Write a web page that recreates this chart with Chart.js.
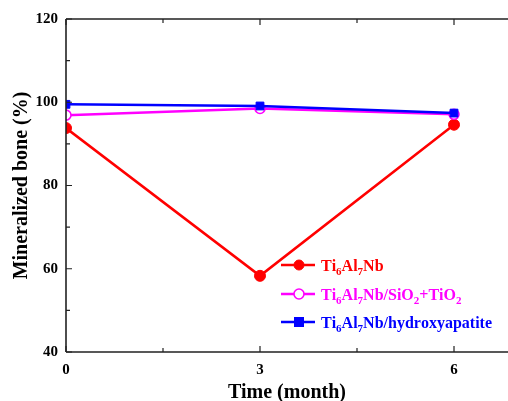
<!DOCTYPE html>
<html><head><meta charset="utf-8">
<script src="https://cdn.jsdelivr.net/npm/chart.js@4"></script>
<style>html,body{margin:0;padding:0;background:#fff}#wrap{width:508px;height:401px}</style>
</head><body><div id="wrap"><canvas id="c" width="508" height="401"></canvas></div>
<script>
const months = [0, 3, 6];
const tiAlNb = [93.8, 58.3, 94.6];
const tiSiO2TiO2 = [96.9, 98.5, 97.1];
const tiHA = [99.5, 99.1, 97.4];
const seriesLabels = ["Ti_6Al_7Nb", "Ti_6Al_7Nb/SiO_2+TiO_2", "Ti_6Al_7Nb/hydroxyapatite"];
const xTickValues = [0, 3, 6];
const xMinorTicks = [1.5, 4.5];
const yTickValues = [40, 60, 80, 100, 120];
const yMinorTicks = [50, 70, 90, 110];

const FONT = '"Liberation Serif","Times New Roman",serif';
const toPts = (ys) => months.map((m, i) => ({x: m, y: ys[i]}));

const axisPlugin = {
  id: 'axisPlugin',
  afterDatasetsDraw(chart) {
    const {ctx, chartArea: a, scales: {x, y}} = chart;
    ctx.save();
    ctx.strokeStyle = '#222';
    ctx.lineWidth = 1.6;
    ctx.beginPath();
    ctx.moveTo(a.left, a.top); ctx.lineTo(a.right, a.top);
    ctx.moveTo(a.left, a.top); ctx.lineTo(a.left, a.bottom);
    ctx.moveTo(a.left, a.bottom); ctx.lineTo(a.right, a.bottom);
    ctx.stroke();
    ctx.lineWidth = 1.2;
    ctx.beginPath();
    xTickValues.concat(xMinorTicks).forEach(v => {
      const px = x.getPixelForValue(v);
      const len = xTickValues.includes(v) ? 6 : 4;
      ctx.moveTo(px, a.bottom); ctx.lineTo(px, a.bottom - len);
      ctx.moveTo(px, a.top); ctx.lineTo(px, a.top + len);
    });
    yTickValues.concat(yMinorTicks).forEach(v => {
      const py = y.getPixelForValue(v);
      const len = yTickValues.includes(v) ? 6 : 4;
      ctx.moveTo(a.left, py); ctx.lineTo(a.left + len, py);
    });
    ctx.stroke();
    ctx.restore();
  },
  afterDraw(chart) {
    const {ctx} = chart;
    const x0 = 281, x1 = 315, tx = 321, rows = [265, 294, 322];
    chart.data.datasets.forEach((ds, i) => {
      const yy = rows[i];
      ctx.save();
      ctx.strokeStyle = ds.borderColor; ctx.lineWidth = 2.5;
      ctx.beginPath(); ctx.moveTo(x0, yy); ctx.lineTo(x1, yy); ctx.stroke();
      const mx = (x0 + x1) / 2 + 1;
      ctx.lineWidth = ds.pointBorderWidth || 1;
      ctx.fillStyle = ds.pointBackgroundColor; ctx.strokeStyle = ds.borderColor;
      if (ds.pointStyle === 'rect') {
        ctx.fillRect(mx - 5, yy - 5, 10, 10);
      } else {
        ctx.beginPath(); ctx.arc(mx, yy, 5, 0, Math.PI * 2); ctx.fill(); ctx.stroke();
      }
      ctx.fillStyle = ds.borderColor;
      ctx.textBaseline = 'alphabetic';
      let cx = tx;
      const s = seriesLabels[i];
      for (let k = 0; k < s.length; k++) {
        if (s[k] === '_') {
          ctx.font = 'bold 11px ' + FONT;
          ctx.fillText(s[k + 1], cx, yy + 10);
          cx += ctx.measureText(s[k + 1]).width;
          k++;
        } else {
          ctx.font = 'bold 16px ' + FONT;
          ctx.fillText(s[k], cx, yy + 5.5);
          cx += ctx.measureText(s[k]).width;
        }
      }
      ctx.restore();
    });
  }
};

new Chart(document.getElementById('c'), {
  type: 'line',
  data: {
    datasets: [
      {label: 'Ti6Al7Nb', data: toPts(tiAlNb), borderColor: '#ff0000', backgroundColor: '#ff0000', clip: 0,
       pointBackgroundColor: '#ff0000', pointStyle: 'circle', pointRadius: 5.5, borderWidth: 2.5, pointBorderWidth: 1, order: 3},
      {label: 'Ti6Al7Nb/SiO2+TiO2', data: toPts(tiSiO2TiO2), borderColor: '#ff00ff', backgroundColor: '#ffffff', clip: 0,
       pointBackgroundColor: '#ffffff', pointStyle: 'circle', pointRadius: 5, borderWidth: 2.5, pointBorderWidth: 1.6, order: 2},
      {label: 'Ti6Al7Nb/hydroxyapatite', data: toPts(tiHA), borderColor: '#0000ff', backgroundColor: '#0000ff', clip: 0,
       pointBackgroundColor: '#0000ff', pointStyle: 'rect', pointRadius: 5.5, borderWidth: 2.5, pointBorderWidth: 1, order: 1}
    ]
  },
  options: {
    responsive: false, animation: false, devicePixelRatio: 1,
    layout: {autoPadding: false, padding: {top: 19, right: 0, left: 0, bottom: 0}},
    plugins: {legend: {display: false}, tooltip: {enabled: false}},
    elements: {line: {tension: 0}},
    scales: {
      x: {
        type: 'linear', min: 0, max: 6.835,
        afterBuildTicks: (s) => { s.ticks = xTickValues.map(v => ({value: v})); },
        afterFit: (s) => { s.height = 49; s.paddingLeft = 0; s.paddingRight = 0; },
        grid: {display: false, drawTicks: false},
        border: {display: false},
        ticks: {color: '#000', padding: 9, font: {family: FONT, size: 15, weight: 'bold'}, maxRotation: 0},
        title: {display: true, text: 'Time (month)', color: '#000', padding: {top: 0, bottom: 0},
                font: {family: FONT, size: 20, weight: 'bold', lineHeight: 0.8}}
      },
      y: {
        min: 40, max: 120,
        afterBuildTicks: (s) => { s.ticks = yTickValues.map(v => ({value: v})); },
        afterFit: (s) => { s.width = 66; s.paddingTop = 0; s.paddingBottom = 0; },
        grid: {display: false, drawTicks: false},
        border: {display: false},
        ticks: {color: '#000', padding: 8, font: {family: FONT, size: 15, weight: 'bold'}},
        title: {display: true, text: 'Mineralized bone (%)', color: '#000', padding: {top: 12, bottom: 0},
                font: {family: FONT, size: 20, weight: 'bold', lineHeight: 1}}
      }
    }
  },
  plugins: [axisPlugin]
});
</script></body></html>
